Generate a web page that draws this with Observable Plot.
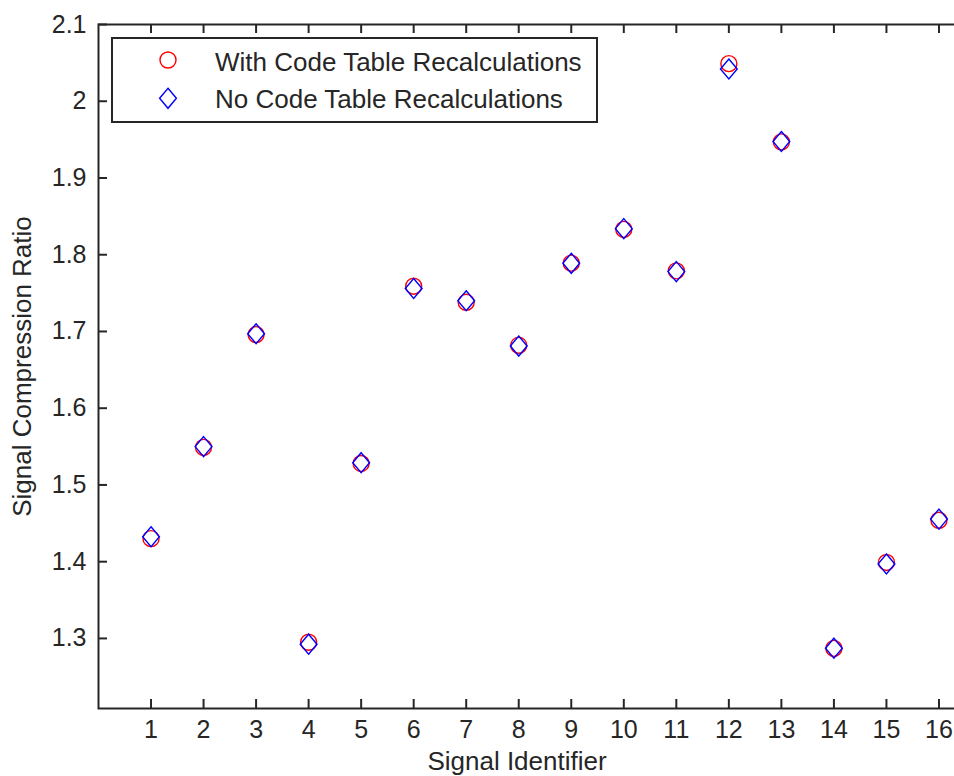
<!DOCTYPE html>
<html>
<head>
<meta charset="utf-8">
<script src="https://cdn.jsdelivr.net/npm/d3@7"></script>
<script src="https://cdn.jsdelivr.net/npm/@observablehq/plot@0.6"></script>
<style>
  html, body { margin: 0; padding: 0; background: #fff; }
  #wrap { position: relative; width: 954px; height: 776px; overflow: hidden; }
  #legend { position: absolute; left: 111px; top: 37px; width: 483px; height: 82px;
            border: 2px solid #262626; background: #fff; }
  #legend svg { position: absolute; left: 0; top: 0; }
</style>
</head>
<body>
<div id="wrap"></div>
<script>
// ---- data ----
const signalIds = [1, 2, 3, 4, 5, 6, 7, 8, 9, 10, 11, 12, 13, 14, 15, 16];
const withRecalc = [1.430, 1.549, 1.696, 1.295, 1.528, 1.759, 1.738, 1.682, 1.789, 1.833, 1.779, 2.049, 1.947, 1.287, 1.399, 1.454];
const noRecalc   = [1.4325, 1.550, 1.697, 1.2925, 1.529, 1.756, 1.740, 1.681, 1.7888, 1.834, 1.778, 2.042, 1.9475, 1.2873, 1.397, 1.4555];
const seriesNames = ["With Code Table Recalculations", "No Code Table Recalculations"];
const xTicks = [1, 2, 3, 4, 5, 6, 7, 8, 9, 10, 11, 12, 13, 14, 15, 16];
const xDomain = [0, 17];
const yTicks = [1.3, 1.4, 1.5, 1.6, 1.7, 1.8, 1.9, 2.0, 2.1];
const yTickLabels = ["1.3", "1.4", "1.5", "1.6", "1.7", "1.8", "1.9", "2", "2.1"];
const yDomain = [1.2087, 2.1];
const xTitle = "Signal Identifier";
const yTitle = "Signal Compression Ratio";

const rows = signalIds.map((id, i) => ({id, withR: withRecalc[i], noR: noRecalc[i]}));

const ink = "#262626";
const tallDiamond = {
  draw(ctx, size) {
    const r = Math.sqrt(size / Math.PI);
    const w = r * 0.84;
    ctx.moveTo(0, -r);
    ctx.lineTo(w, 0);
    ctx.lineTo(0, r);
    ctx.lineTo(-w, 0);
    ctx.closePath();
  }
};

const plot = Plot.plot({
  width: 954,
  height: 776,
  marginLeft: 98,
  marginTop: 24,
  marginBottom: 68,
  marginRight: -37,
  style: {fontFamily: "'Liberation Sans', Arial, sans-serif", fontSize: "25px", color: ink, background: "#fff", overflow: "hidden"},
  x: {domain: xDomain},
  y: {domain: yDomain},
  marks: [
    Plot.frame({stroke: ink, strokeWidth: 2}),
    Plot.tickX(xTicks, {x: d => d, insetTop: 675, stroke: ink, strokeWidth: 2}),
    Plot.tickX(xTicks, {x: d => d, insetBottom: 675, stroke: ink, strokeWidth: 2}),
    Plot.tickY(yTicks, {y: d => d, insetRight: 884, stroke: ink, strokeWidth: 2}),
    Plot.axisX(xTicks, {tickSize: 0, tickPadding: 12, label: null, fill: ink}),
    Plot.axisY(yTicks, {tickSize: 0, tickPadding: 12, label: null, fill: ink,
      tickFormat: d => yTickLabels[yTicks.indexOf(d)]}),
    Plot.dot(rows, {x: "id", y: "withR", symbol: "circle", r: 8, stroke: "#ff0000", fill: "none", strokeWidth: 1.4}),
    Plot.dot(rows, {x: "id", y: "noR", symbol: tallDiamond, r: 10, stroke: "#0000ff", fill: "none", strokeWidth: 1.4}),
    Plot.text([xTitle], {frameAnchor: "bottom", textAnchor: "middle", lineAnchor: "middle", dx: -28, dy: 53, fontSize: 26, fill: ink}),
    Plot.text([yTitle], {frameAnchor: "left", textAnchor: "middle", lineAnchor: "middle", rotate: -90, dx: -76, fontSize: 26, fill: ink})
  ]
});
const wrap = document.getElementById("wrap");
wrap.appendChild(plot);

// legend
const legend = document.createElement("div");
legend.id = "legend";
const ns = "http://www.w3.org/2000/svg";
const lsvg = document.createElementNS(ns, "svg");
lsvg.setAttribute("width", 483);
lsvg.setAttribute("height", 82);
lsvg.style.fontFamily = "'Liberation Sans', Arial, sans-serif";
lsvg.style.fontSize = "26px";
const circ = document.createElementNS(ns, "circle");
circ.setAttribute("cx", 55); circ.setAttribute("cy", 21); circ.setAttribute("r", 8);
circ.setAttribute("fill", "none"); circ.setAttribute("stroke", "#ff0000"); circ.setAttribute("stroke-width", 1.4);
lsvg.appendChild(circ);
const dia = document.createElementNS(ns, "path");
dia.setAttribute("d", "M55,49.3L63.4,59.3L55,69.3L46.6,59.3Z");
dia.setAttribute("fill", "none"); dia.setAttribute("stroke", "#0000ff"); dia.setAttribute("stroke-width", 1.4);
lsvg.appendChild(dia);
[[seriesNames[0], 31.7], [seriesNames[1], 68.7]].forEach(([t, y]) => {
  const tx = document.createElementNS(ns, "text");
  tx.setAttribute("x", 102); tx.setAttribute("y", y);
  tx.setAttribute("fill", ink);
  tx.textContent = t;
  lsvg.appendChild(tx);
});
legend.appendChild(lsvg);
wrap.appendChild(legend);
</script>
</body>
</html>
